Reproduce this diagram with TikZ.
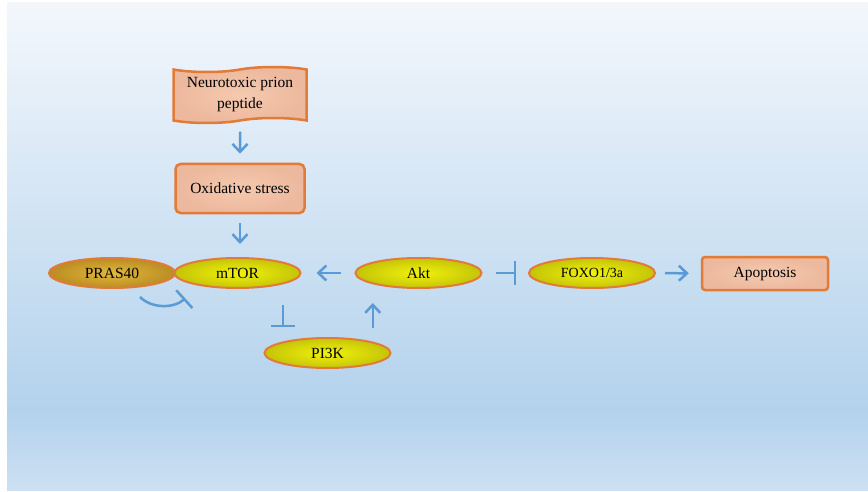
\documentclass[tikz,border=0pt]{standalone}
\usepackage{fontspec}
\setmainfont{Liberation Serif}
\usetikzlibrary{shapes.symbols,shapes.geometric,arrows.meta}

\definecolor{peach}{HTML}{F5CAAE}
\definecolor{peachdark}{HTML}{ECB89E}
\definecolor{rim}{HTML}{E27A38}
\definecolor{link}{HTML}{5B9BD5}
\definecolor{lemon}{HTML}{F2F20C}
\definecolor{olive}{HTML}{C4C408}
\definecolor{goldlight}{HTML}{E2B83E}
\definecolor{golddark}{HTML}{BA8C22}
\definecolor{skytop}{HTML}{F3F7FC}
\definecolor{skymid}{HTML}{B3D2EC}
\definecolor{skylow}{HTML}{CDE0F2}

\tikzset{
  kinase/.style={ellipse, draw=rim, line width=2pt, inner color=lemon, outer color=olive,
    minimum width=126, minimum height=30, inner sep=0pt, yshift=-1,
    font=\fontsize{15.5}{18}\selectfont},
  goldkinase/.style={kinase, inner color=goldlight, outer color=golddark},
  stressbox/.style={rectangle, rounded corners=5, draw=rim, line width=2.5pt,
    inner color=peach, outer color=peachdark, font=\fontsize{15.5}{18}\selectfont},
  wavebox/.style={tape, draw=rim, line width=2.5pt, inner color=peach, outer color=peachdark,
    align=center, font=\fontsize{15.5}{21}\selectfont},
  act/.style={draw=link, line width=2.5pt, -{Straight Barb[length=8pt,width=15pt]}},
  inh/.style={draw=link, line width=2.5pt, -{Bar[width=24pt]}},
}

\begin{document}
\begin{tikzpicture}[x=1pt,y=-1pt]
    \useasboundingbox (0,0) rectangle (868,492);
    % background
    \shade[top color=skytop, bottom color=skymid] (7,3) rectangle (868,410);
    \shade[top color=skymid, bottom color=skylow] (7,410) rectangle (868,490);

    \node[wavebox, minimum width=133, minimum height=56] (prion) at (240,95) {Neurotoxic prion\\peptide};
    \node[stressbox, minimum width=129, minimum height=49] (stress) at (240,188.5) {Oxidative stress};
    \node[goldkinase] (pras) at (112,272) {PRAS40};
    \node[kinase] (mtor) at (237.5,272) {mTOR};
    \node[kinase] (akt) at (418.5,272) {Akt};
    \node[kinase, font=\fontsize{14}{17}\selectfont] (foxo) at (592,272) {FOXO1/3a};
    \node[stressbox, rounded corners=3, minimum width=126, minimum height=33, text depth=3pt] (apop) at (765,273.5) {Apoptosis};
    \node[kinase] (pik) at (327.5,352) {PI3K};

    \draw[act, shorten <=10pt, shorten >=9pt] (prion) -- (stress);
    \draw[act, shorten <=9pt, shorten >=13pt] (stress.south) -- (stress.south |- mtor.north);
    \draw[act, shorten <=14pt, shorten >=15pt] (akt) -- (mtor);
    \draw[inh, shorten <=13pt, shorten >=12pt] (akt) -- (foxo);
    \draw[act, shorten <=9pt, shorten >=12pt] (foxo) -- (apop);
    \draw[act, shorten <=14pt, shorten >=14pt] (pik.north east) -- (pik.north east |- akt.south);
    \draw[inh, shorten <=21pt, shorten >=10pt] (mtor.south east) -- (mtor.south east |- pik.north);
    % PRAS40 holding back mTOR
    \draw[inh] ([shift={(28,8)}]pras.south) .. controls +(12,12) and +(-11,10) .. ([shift={(-7,14)}]mtor.south west);
\end{tikzpicture}
\end{document}
